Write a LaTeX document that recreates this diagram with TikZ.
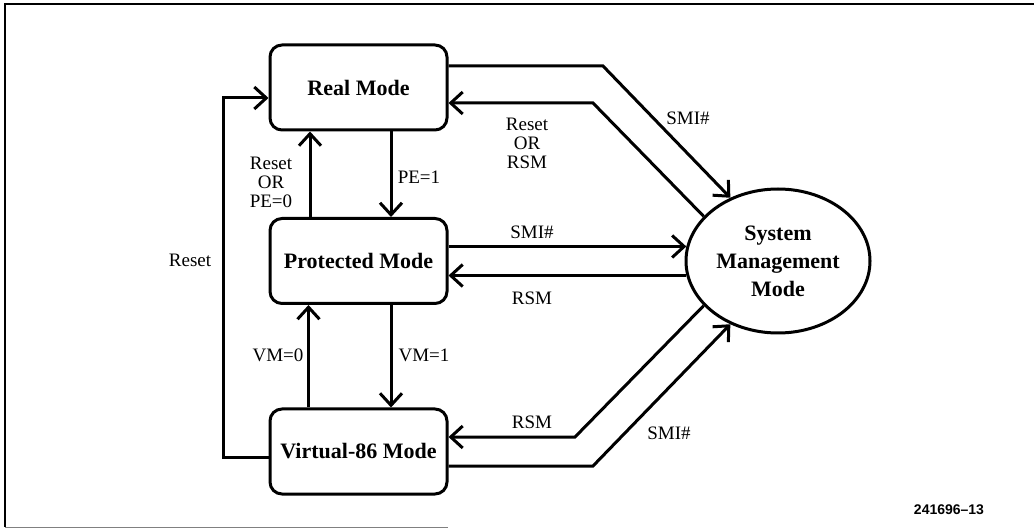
\documentclass[tikz,border=0pt]{standalone}
\usepackage{fontspec}
\setmainfont{Liberation Serif}
\newfontfamily\figfont{Liberation Sans}
\usetikzlibrary{calc,shapes.geometric,arrows.meta}

\begin{document}
\begin{tikzpicture}[x=1pt, y=1pt,
mode/.style = {draw, rounded corners = 12pt, line width = 3pt, minimum width = 177pt, minimum height = 85pt, font = \fontsize{22}{26}\selectfont\bfseries},
smm/.style = {draw, ellipse, line width = 3pt, minimum width = 184pt, minimum height = 144pt, inner sep = 0pt, align = center, font = \fontsize{22}{28}\selectfont\bfseries},
arr/.style = {line width = 3pt, -{Straight Barb[length = 12pt, width = 22pt]}},
lbl/.style = {align = center, inner sep = 1pt, font = \fontsize{19}{19}\selectfont}
]
\useasboundingbox (0,0) rectangle (1034,528);
\draw[line width = 2pt] (1034,524) -- (5,524) -- (5,1);
\draw[line width = 1pt, gray] (5,1) -- (448,1);

\node[mode] (real) at (358.5,440.5) {Real Mode};
\node[mode] (prot) at (358.5,267) {Protected Mode};
\node[mode] (v86) at (358.5,76.5) {Virtual-86 Mode};
\node[smm] (smm) at (778,267) {System\\Management\\Mode};

% bend points
\coordinate (rst) at (223,430);
\coordinate (b1) at (603,462);
\coordinate (b2) at (593,425);
\coordinate (b3) at (575,91);
\coordinate (b4) at (593,62);

% between the modes
\draw[arr] ($(real.south)+(32.5,0)$) -- ($(prot.north)+(32.5,0)$);
\draw[arr] ($(prot.north)+(-48.5,0)$) -- ($(real.south)+(-48.5,0)$);
\draw[arr] ($(prot.south)+(32.5,0)$) -- ($(v86.north)+(32.5,0)$);
\draw[arr] ($(v86.north)+(-50,0)$) -- ($(prot.south)+(-50,0)$);
\draw[arr] ($(v86.west)+(0,-5.5)$) -| (rst) -- (real.west |- rst);

% to and from SMM
\draw[arr] ($(real.east)+(0,21.5)$) -- (b1) -- (smm.127);
\draw[arr] (smm.149) -- (b2) -- (real.east |- b2);
\draw[arr] (prot.east |- smm.171) -- (smm.171);
\draw[arr] (smm.189) -- (prot.east |- smm.189);
\draw[arr] (smm.211) -- (b3) -- (v86.east |- b3);
\draw[arr] (v86.east |- b4) -- (b4) -- (smm.233);

\node[lbl] (smiR) at (688,410) {SMI\#};
\node[lbl] (rstR) at (527,385) {Reset\\OR\\RSM};
\node[lbl] (rstP) at (271,346) {Reset\\OR\\PE=0};
\node[lbl] (pe1) at (419,351) {PE=1};
\node[lbl] (smiP) at (532,296) {SMI\#};
\node[lbl] (rsmP) at (532,230) {RSM};
\node[lbl] (vm0) at (278,173) {VM=0};
\node[lbl] (vm1) at (424,173) {VM=1};
\node[lbl] (rsmV) at (532,106) {RSM};
\node[lbl] (smiV) at (669,95) {SMI\#};
\node[lbl] (rstL) at (190,268) {Reset};
\node[font = \figfont\fontsize{14}{16}\selectfont\bfseries] (fig) at (949,18) {241696–13};
\end{tikzpicture}
\end{document}
